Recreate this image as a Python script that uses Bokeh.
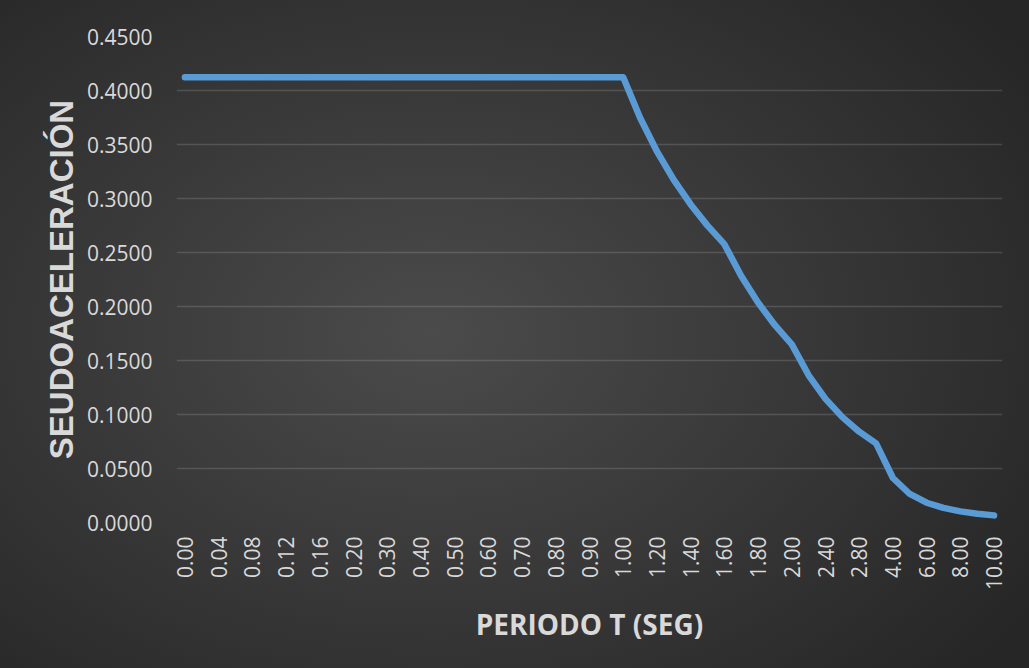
import math
from bokeh.plotting import figure
from bokeh.models import FixedTicker, PrintfTickFormatter, Range1d, ColumnDataSource
from bokeh.embed import file_html
from bokeh.resources import INLINE

# ---- data ----
periods = ["0.00", "0.02", "0.04", "0.06", "0.08", "0.10", "0.12", "0.14", "0.16", "0.18",
           "0.20", "0.25", "0.30", "0.35", "0.40", "0.45", "0.50", "0.55", "0.60", "0.65",
           "0.70", "0.75", "0.80", "0.85", "0.90", "0.95", "1.00", "1.10", "1.20", "1.30",
           "1.40", "1.50", "1.60", "1.70", "1.80", "1.90", "2.00", "2.20", "2.40", "2.60",
           "2.80", "3.00", "4.00", "5.00", "6.00", "7.00", "8.00", "9.00", "10.00"]
seudoaceleracion = [0.4123, 0.4123, 0.4123, 0.4123, 0.4123, 0.4123, 0.4123, 0.4123, 0.4123, 0.4123,
                    0.4123, 0.4123, 0.4123, 0.4123, 0.4123, 0.4123, 0.4123, 0.4123, 0.4123, 0.4123,
                    0.4123, 0.4123, 0.4123, 0.4123, 0.4123, 0.4123, 0.4123, 0.3748, 0.3436, 0.3172,
                    0.2945, 0.2749, 0.2577, 0.2283, 0.2036, 0.1827, 0.1649, 0.1363, 0.1145, 0.0976,
                    0.0841, 0.0733, 0.0412, 0.0264, 0.0183, 0.0135, 0.0103, 0.0081, 0.0066]
y_ticks = [0.0, 0.05, 0.10, 0.15, 0.20, 0.25, 0.30, 0.35, 0.40, 0.45]
x_title = "PERIODO T (SEG)"
y_title = "SEUDOACELERACIÓN"

idx = list(range(len(periods)))
src = ColumnDataSource(dict(x=idx, y=seudoaceleracion, t=periods))

p = figure(width=1029, height=668, output_backend="svg", toolbar_location=None,
           x_range=Range1d(-0.5, len(periods) - 0.5), y_range=Range1d(0, 0.45),
           min_border_left=176, min_border_right=27, min_border_top=36, min_border_bottom=146)
p.background_fill_color = None
p.border_fill_color = None
p.outline_line_color = None

p.line("x", "y", source=src, line_color="#5B9BD5", line_width=6.5,
       line_cap="round", line_join="round")

txt = "#d9d9d9"
shown = idx[::2]
p.xaxis.ticker = FixedTicker(ticks=shown)
p.xaxis.major_label_overrides = {i: periods[i] for i in shown}
p.xaxis.major_label_orientation = math.pi / 2
p.yaxis.ticker = FixedTicker(ticks=y_ticks)
p.yaxis.formatter = PrintfTickFormatter(format="%.4f")

for ax in (p.xaxis, p.yaxis):
    ax.axis_line_color = None
    ax.major_tick_line_color = None
    ax.minor_tick_line_color = None
    ax.major_tick_in = 0
    ax.major_tick_out = 0
    ax.minor_tick_in = 0
    ax.minor_tick_out = 0
    ax.major_label_text_color = txt
    ax.major_label_text_font = "Open Sans"
    ax.major_label_text_font_size = "21px"
    ax.axis_label_text_color = txt
    ax.axis_label_text_font_style = "bold"

p.yaxis.major_label_standoff = 24
p.xaxis.major_label_standoff = 14

p.xaxis.axis_label = x_title
p.xaxis.axis_label_text_font = "Open Sans"
p.xaxis.axis_label_text_font_size = "28px"
p.xaxis.axis_label_standoff = 12

p.yaxis.axis_label = y_title
p.yaxis.axis_label_text_font = "Liberation Sans"
p.yaxis.axis_label_text_font_size = "33px"
p.yaxis.axis_label_standoff = 4

p.xgrid.grid_line_color = None
p.ygrid.grid_line_color = "white"
p.ygrid.grid_line_alpha = 0.14
p.ygrid.grid_line_width = 1.3

html = file_html(p, INLINE)
style = ("<style>html,body{margin:0;padding:0;width:100%;height:100%;"
         "background:radial-gradient(ellipse 70% 75% at 42% 50%, #4b4b4b 0%, #262626 100%) #2a2a2a;}</style>")
html = html.replace("</head>", style + "</head>", 1)
open("out.html", "w").write(html)
